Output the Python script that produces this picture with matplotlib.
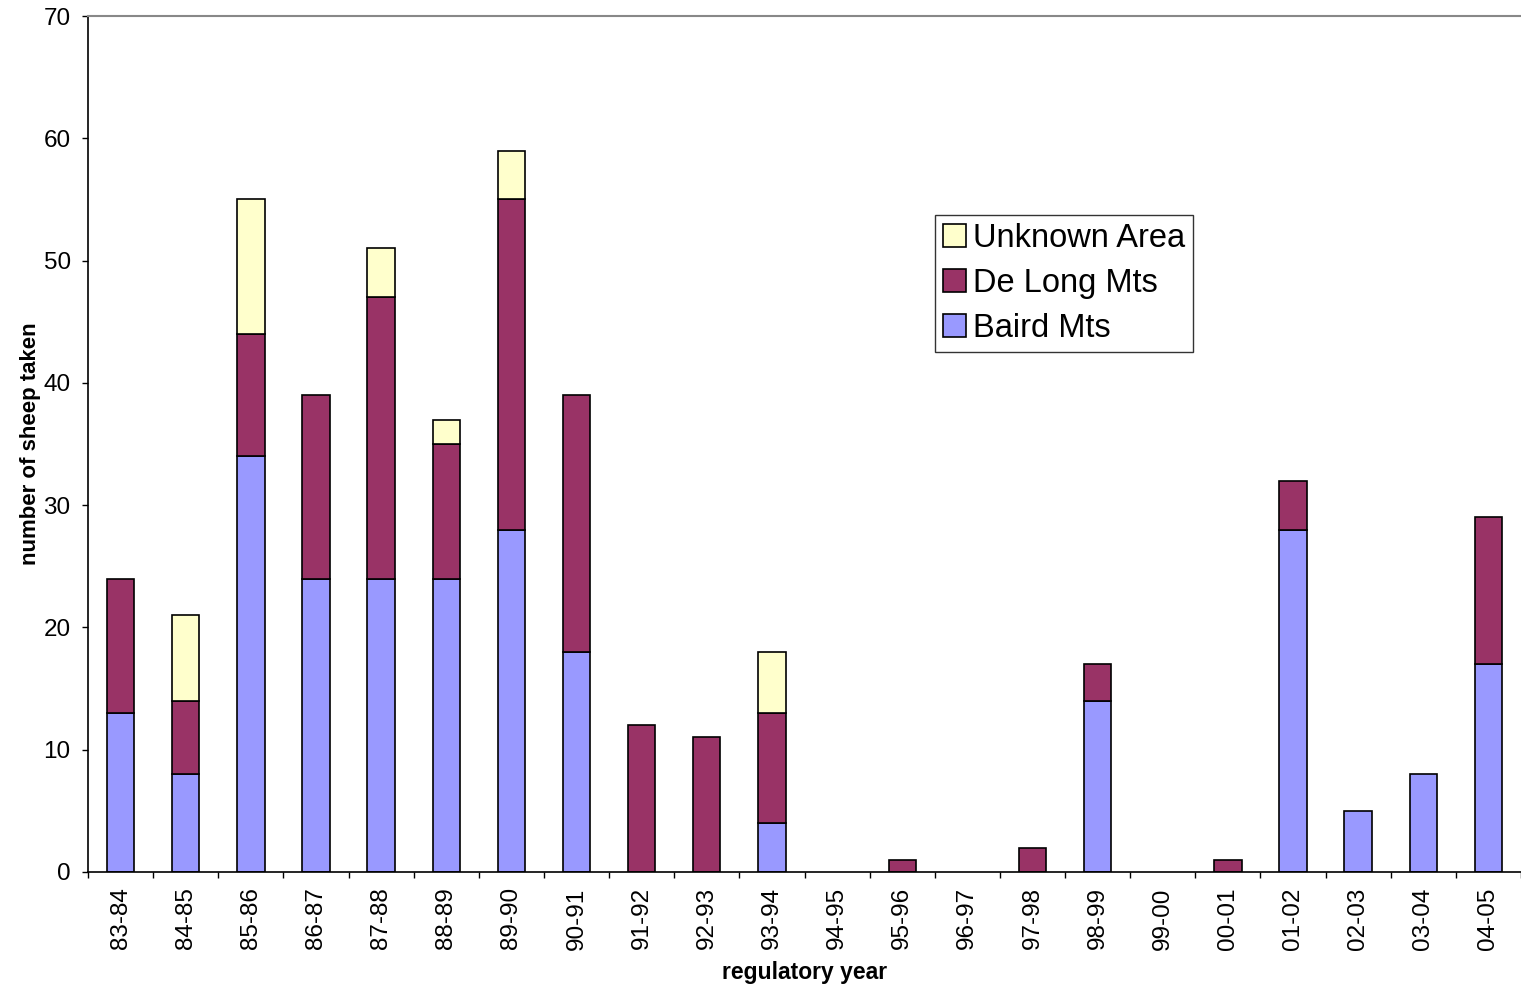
import numpy as np
import matplotlib
matplotlib.use('Agg')
import matplotlib.pyplot as plt

plt.rcParams['font.family'] = ['Liberation Sans', 'DejaVu Sans']

years = ['83-84', '84-85', '85-86', '86-87', '87-88', '88-89', '89-90', '90-91',
         '91-92', '92-93', '93-94', '94-95', '95-96', '96-97', '97-98', '98-99',
         '99-00', '00-01', '01-02', '02-03', '03-04', '04-05']
baird = [13, 8, 34, 24, 24, 24, 28, 18, 0, 0, 4, 0, 0, 0, 0, 14, 0, 0, 28, 5, 8, 17]
delong = [11, 6, 10, 15, 23, 11, 27, 21, 12, 11, 9, 0, 1, 0, 2, 3, 0, 1, 4, 0, 0, 12]
unknown = [0, 7, 11, 0, 4, 2, 4, 0, 0, 0, 5, 0, 0, 0, 0, 0, 0, 0, 0, 0, 0, 0]

x = np.arange(len(years))
baird = np.array(baird)
delong = np.array(delong)
unknown = np.array(unknown)

fig = plt.figure(figsize=(15.21, 9.84), dpi=100)
ax = fig.add_axes([88/1521, 112/984, 1 - 88/1521, 856/984])

w = 0.42
kw = dict(width=w, edgecolor='black', linewidth=1.2)
b1 = ax.bar(x, np.where(baird > 0, baird, np.nan), color='#9999FF', label='Baird Mts', **kw)
b2 = ax.bar(x, np.where(delong > 0, delong, np.nan), bottom=baird, color='#993366', label='De Long Mts', **kw)
b3 = ax.bar(x, np.where(unknown > 0, unknown, np.nan), bottom=baird + delong, color='#FFFFCC', label='Unknown Area', **kw)

ax.set_ylim(0, 70)
ax.set_xlim(-0.5, 21.445)
ax.set_yticks(range(0, 71, 10))
ax.set_xticks(x)
ax.set_xticklabels(years, rotation=90, fontsize=17.5)
ax.set_xticks(np.arange(-0.5, 22, 1), minor=True)
ax.tick_params(axis='x', which='major', length=0, pad=11)
ax.tick_params(axis='x', which='minor', length=4.5, width=1, direction='out')
ax.tick_params(axis='y', length=4.5, width=1, labelsize=17.5, pad=8)

ax.spines['right'].set_visible(False)
ax.spines['top'].set_color('#888888')
ax.spines['top'].set_linewidth(1.5)
ax.spines['left'].set_linewidth(1.2)
ax.spines['bottom'].set_linewidth(1.2)

ax.set_xlabel('regulatory year', fontsize=16.5, fontweight='bold', labelpad=8)
ax.set_ylabel('number of sheep taken', fontsize=16, fontweight='bold', labelpad=2)

leg = ax.legend(handles=[b3, b2, b1], loc='upper left',
                bbox_to_anchor=(935/1521, 1 - 215/984), bbox_transform=fig.transFigure,
                fontsize=23.5, frameon=True, fancybox=False, edgecolor='black',
                handlelength=0.7, handleheight=0.7, handletextpad=0.2,
                labelspacing=0.42, borderpad=0.25, borderaxespad=0)
leg.get_frame().set_linewidth(1.0)

fig.savefig('out.png', dpi=100)
